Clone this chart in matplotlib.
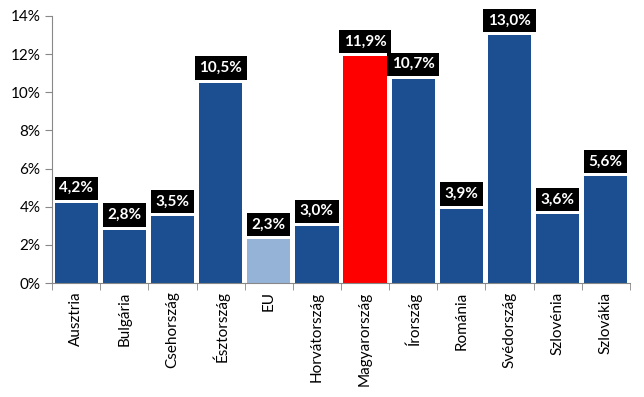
import matplotlib.pyplot as plt
import numpy as np

countries = ['Ausztria', 'Bulgária', 'Csehország', 'Észtország', 'EU', 'Horvátország',
             'Magyarország', 'Írország', 'Románia', 'Svédország', 'Szlovénia', 'Szlovákia']
values = [4.2, 2.8, 3.5, 10.5, 2.3, 3.0, 11.9, 10.7, 3.9, 13.0, 3.6, 5.6]

plt.rcParams['font.family'] = ['Lato', 'DejaVu Sans']

colors = []
for c in countries:
    if c == 'EU':
        colors.append('#95B3D7')
    elif c == 'Magyarország':
        colors.append('#FF0000')
    else:
        colors.append('#1C4F91')

fig = plt.figure(figsize=(6.44, 3.97), dpi=100)
ax = fig.add_axes([0.081, 0.287, 0.897, 0.673])

x = np.arange(len(countries))
ax.bar(x, values, width=0.9, color=colors, zorder=2)

# value labels in black boxes
for xi, v in zip(x, values):
    ax.annotate(f'{v:.1f}%'.replace('.', ','), (xi, v), xytext=(0, 5.5),
                textcoords='offset points', ha='center', va='bottom',
                color='white', fontsize=11, fontweight='bold',
                bbox=dict(boxstyle='square,pad=0.3', fc='black', ec='none'))

ax.set_xlim(-0.5, len(countries) - 0.5)
ax.set_ylim(0, 14)
ax.set_yticks(np.arange(0, 15, 2))
ax.set_yticklabels([f'{t}%' for t in range(0, 15, 2)], fontsize=11)

ax.set_xticks(x)
ax.set_xticklabels(countries, rotation=90, fontsize=11)
ax.tick_params(axis='x', length=0, pad=6)
ax.set_xticks(np.arange(-0.5, len(countries), 1), minor=True)
ax.tick_params(axis='x', which='minor', length=5, color='#888888')
ax.tick_params(axis='y', length=5, color='#888888')

for s in ['top', 'right']:
    ax.spines[s].set_visible(False)
for s in ['left', 'bottom']:
    ax.spines[s].set_color('#888888')

plt.savefig('out.png', dpi=100)
